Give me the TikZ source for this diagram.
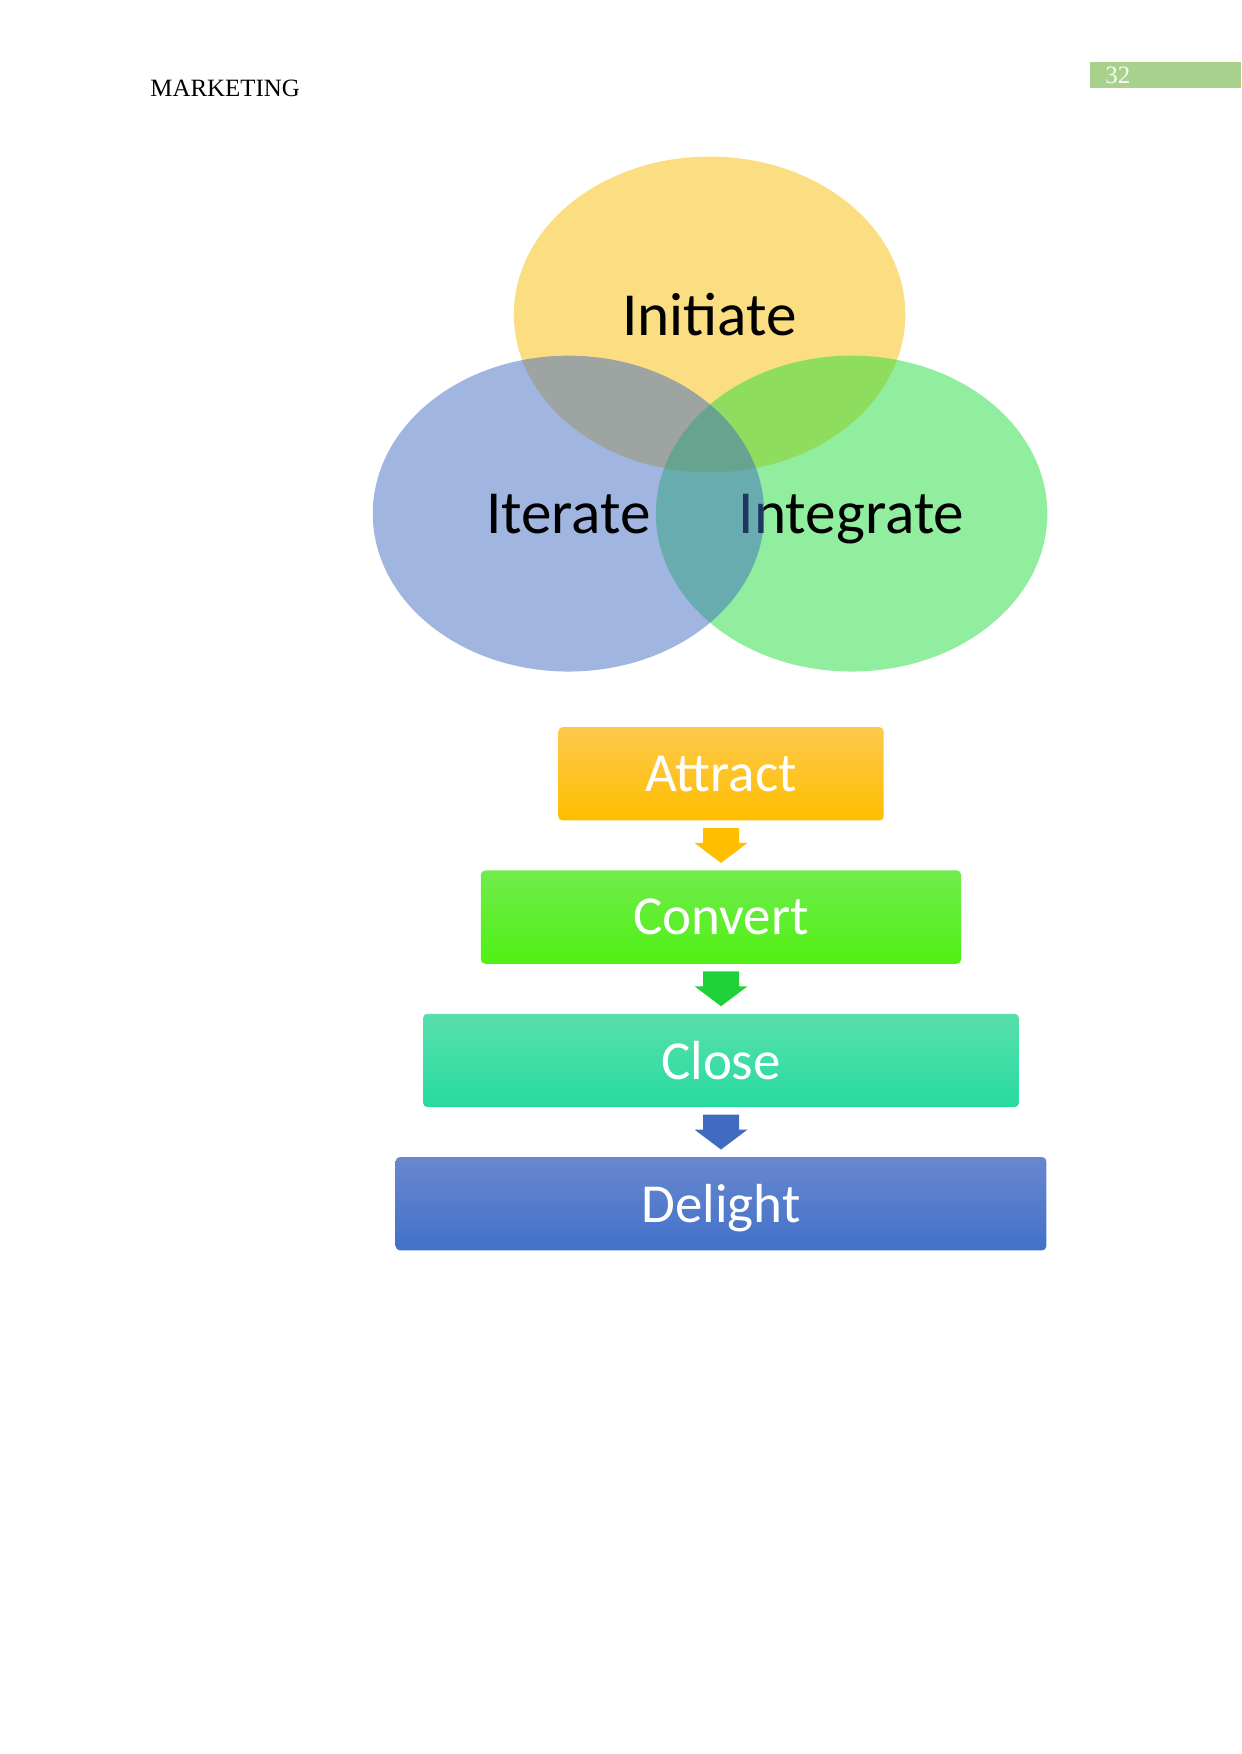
\documentclass[tikz,border=0pt]{standalone}
\usepackage{fontspec}
\setmainfont{Liberation Serif}
\newfontfamily\smartfont{Carlito}
\usepackage{tikz}
\usetikzlibrary{positioning, shapes.geometric, calc}

\definecolor{vennYellow}{RGB}{250,189,5}
\definecolor{vennGreen}{RGB}{33,221,61}
\definecolor{vennBlue}{RGB}{65,107,193}
\definecolor{pageGreen}{RGB}{169,209,142}
\definecolor{attractTop}{RGB}{253,201,76}
\definecolor{attractBot}{RGB}{255,190,0}
\definecolor{convertTop}{RGB}{112,236,76}
\definecolor{convertBot}{RGB}{80,240,20}
\definecolor{closeTop}{RGB}{88,223,172}
\definecolor{closeBot}{RGB}{40,219,160}
\definecolor{delightTop}{RGB}{104,136,206}
\definecolor{delightBot}{RGB}{66,113,201}

\begin{document}
\begin{tikzpicture}[x=0.016933cm, y=-0.016933cm,
    venn/.style={ellipse, minimum width=6.63cm, minimum height=5.35cm, inner sep=0pt, fill opacity=0.5, text opacity=1, text depth=0pt, font=\smartfont\fontsize{29.5}{34}\selectfont},
    stage/.style={rounded corners=2pt, minimum height=1.58cm, inner sep=0pt, text=white, text depth=0pt, font=\smartfont\fontsize{26.5}{30}\selectfont},
    header/.style={anchor=base west, inner sep=0pt, font=\fontsize{12}{14}\selectfont}
]
\useasboundingbox (0,0) rectangle (1241,1754);
% Page header
\node[header] (title) at (150,96.5) {MARKETING};
\fill[pageGreen] (1090,61.5) rectangle (1241,88.4);
\node[header, text=white!92!pageGreen] (page) at (1105,83) {32};
% Venn circles
\node[venn, fill=vennYellow] (initiate)  at (709.6,314.5) {Initiate};
\node[venn, fill=vennGreen]  (integrate) at (851.6,513.6) {Integrate};
\node[venn, fill=vennBlue]   (iterate)   at (568.5,513.6) {Iterate};
% Stages
\node[stage, top color=attractTop, bottom color=attractBot, minimum width=5.51cm] (attract) at (721,773.8) {Attract};
\node[stage, top color=convertTop, bottom color=convertBot, minimum width=8.13cm, below=0.833cm of attract] (convert) {Convert};
\node[stage, top color=closeTop, bottom color=closeBot, minimum width=10.09cm, below=0.833cm of convert] (close) {Close};
\node[stage, top color=delightTop, bottom color=delightBot, minimum width=11.02cm, below=0.833cm of close] (delight) {Delight};
% Block arrows
\foreach \a/\b/\c in {attract/convert/attractBot, convert/close/vennGreen!95!black, close/delight/vennBlue}{
  \coordinate (mid) at ($(\a.south)!0.5!(\b.north)$);
  \fill[\c] ($(mid)+(-18,-17.5)$) -- ++(36,0) -- ++(0,15) -- ++(8.5,0)
    -- ($(mid)+(0,17.5)$) -- ++(-26.5,-20) -- ++(8.5,0) -- cycle;
}
\end{tikzpicture}
\end{document}
